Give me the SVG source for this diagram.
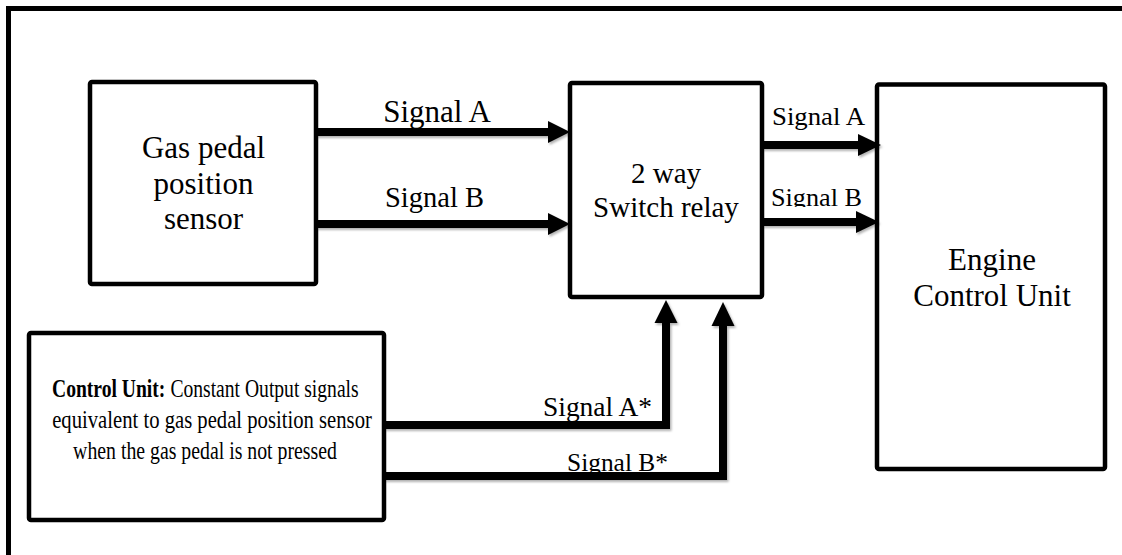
<svg xmlns="http://www.w3.org/2000/svg" width="1122" height="555" viewBox="0 0 1122 555">
  <defs>
    <filter id="soft" x="-5%" y="-5%" width="110%" height="115%">
      <feDropShadow dx="1.5" dy="2" stdDeviation="1.2" flood-color="#000" flood-opacity="0.3"/>
    </filter>
    <clipPath id="clipSigB">
      <rect x="760" y="170" width="120" height="37"/>
    </clipPath>
  </defs>
  <style>
    .frame { fill: none; stroke: #000; stroke-width: 5; }
    .box { fill: #fff; stroke: #000; stroke-width: 4.5; }
    .wire { fill: none; stroke: #000; stroke-width: 8; stroke-linejoin: miter; }
    .head { fill: #000; stroke: none; }
    .t { font-family: "Liberation Serif", "Times New Roman", serif; fill: #000; }
    .mid { text-anchor: middle; }
    .b { font-weight: bold; }
  </style>

  <rect width="1122" height="555" fill="#fff"/>

  <!-- outer border -->
  <path class="frame" d="M8.5,560 V8.5 H1130"/>

  <!-- sensor -->
  <g id="gas-pedal-sensor">
    <rect class="box" x="90" y="82" width="226" height="202" rx="2"/>
    <text class="t mid" font-size="31" x="203.5" y="158">Gas pedal</text>
    <text class="t mid" font-size="31" x="203.5" y="193.5">position</text>
    <text class="t mid" font-size="31" x="203.5" y="229">sensor</text>
  </g>

  <!-- relay -->
  <g id="switch-relay">
    <rect class="box" x="570" y="83" width="192" height="214" rx="2"/>
    <text class="t mid" font-size="29" x="666" y="183">2 way</text>
    <text class="t mid" font-size="29" x="666" y="217">Switch relay</text>
  </g>

  <!-- ECU -->
  <g id="engine-control-unit">
    <rect class="box" x="877" y="84.5" width="228" height="384.5" rx="2"/>
    <text class="t mid" font-size="31" x="992" y="270">Engine</text>
    <text class="t mid" font-size="31" x="992" y="306">Control Unit</text>
  </g>

  <!-- constant-output control unit (condensed caption) -->
  <g id="control-unit">
    <rect class="box" x="29" y="333" width="355" height="187" rx="2"/>
    <g transform="translate(52,0) scale(0.8,1)">
      <text class="t b" font-size="24.5" x="0" y="397">Control Unit:</text>
      <text class="t" font-size="24.5" x="148" y="397">Constant Output signals</text>
    </g>
    <g transform="translate(212,0) scale(0.844,1)">
      <text class="t mid" font-size="24.5" x="0" y="428">equivalent to gas pedal position sensor</text>
    </g>
    <g transform="translate(205,0) scale(0.808,1)">
      <text class="t mid" font-size="24.5" x="0" y="459">when the gas pedal is not pressed</text>
    </g>
  </g>

  <!-- connectors -->
  <g id="connectors" filter="url(#soft)">
    <!-- sensor to relay -->
    <line class="wire" x1="316" y1="132" x2="550" y2="132"/>
    <polygon class="head" points="548,121 570,132 548,143"/>
    <line class="wire" x1="316" y1="224" x2="550" y2="224"/>
    <polygon class="head" points="548,213 570,224 548,235"/>
    <!-- relay to ECU -->
    <line class="wire" x1="762" y1="145" x2="860" y2="145"/>
    <polygon class="head" points="858,134 881,145 858,156"/>
    <line class="wire" x1="762" y1="222" x2="858" y2="222"/>
    <polygon class="head" points="856,211 879,222 856,233"/>
    <!-- control unit to relay -->
    <path class="wire" d="M384,425 H666 V321"/>
    <polygon class="head" points="654.5,323 666,300 677.5,323"/>
    <path class="wire" d="M384,476 H723 V324"/>
    <polygon class="head" points="711.5,326 723,302 734.5,326"/>
  </g>

  <!-- connector labels -->
  <g id="labels">
    <text class="t mid" font-size="31" x="437" y="122">Signal A</text>
    <text class="t mid" font-size="28.5" x="434.5" y="207">Signal B</text>
    <text class="t" font-size="26" x="772" y="125" textLength="93" lengthAdjust="spacingAndGlyphs">Signal A</text>
    <text class="t" font-size="26" x="771" y="206" textLength="91" lengthAdjust="spacingAndGlyphs" clip-path="url(#clipSigB)">Signal B</text>
    <text class="t" font-size="27" x="543" y="416" textLength="109" lengthAdjust="spacingAndGlyphs">Signal A*</text>
    <text class="t" font-size="26" x="567" y="471" textLength="101" lengthAdjust="spacingAndGlyphs">Signal B*</text>
  </g>
</svg>
